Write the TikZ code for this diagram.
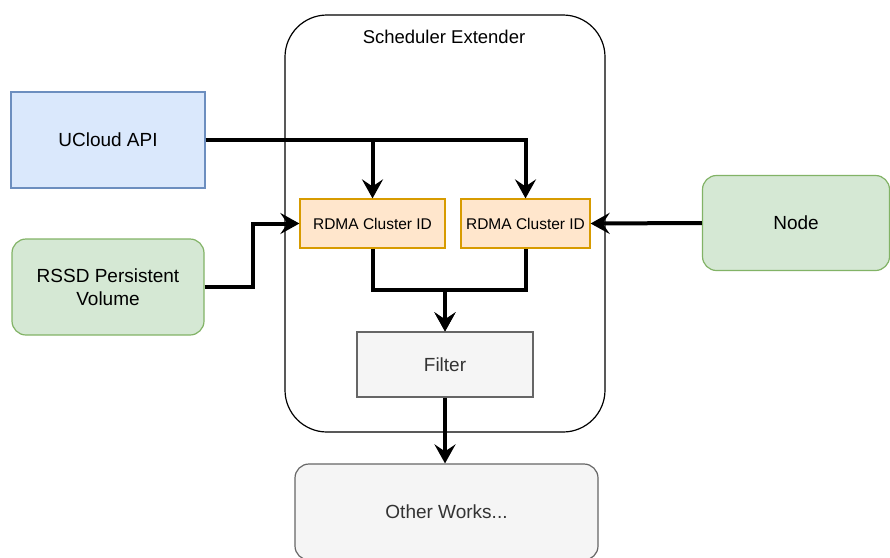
\documentclass[tikz,border=0pt]{standalone}
\usepackage{fontspec}
\setmainfont{Liberation Sans}
\usetikzlibrary{arrows.meta}
\definecolor{blueFill}{HTML}{DAE8FC}
\definecolor{blueLine}{HTML}{6C8EBF}
\definecolor{greenFill}{HTML}{D5E8D4}
\definecolor{greenLine}{HTML}{82B366}
\definecolor{orangeFill}{HTML}{FFE6CC}
\definecolor{orangeLine}{HTML}{D79B00}
\definecolor{grayFill}{HTML}{F5F5F5}
\definecolor{grayLine}{HTML}{666666}
\definecolor{grayText}{HTML}{333333}
\tikzset{
  box/.style={draw, line width=1.2pt, minimum width=#1, inner sep=0pt, align=center,
              font=\fontsize{19}{23}\selectfont},
  api/.style={box=194pt, minimum height=96pt, fill=blueFill, draw=blueLine},
  greenbox/.style={box=#1, rounded corners=14pt, fill=greenFill, draw=greenLine},
  rdma/.style={box=#1, minimum height=49pt, fill=orangeFill, draw=orangeLine,
               font=\fontsize{15.5}{19}\selectfont},
  graybox/.style={box=#1, fill=grayFill, draw=grayLine, text=grayText},
  flow/.style={line width=4pt, -{Stealth[length=19pt, width=21pt, inset=7pt]}},
}
\begin{document}
\begin{tikzpicture}[x=1pt, y=-1pt]
  \useasboundingbox (0,0) rectangle (890,557);

  % container
  \draw[line width=1.2pt, rounded corners=42pt] (285,15) rectangle (605,432);
  \node[font=\fontsize{18.5}{22}\selectfont] (title) at (444,37) {Scheduler Extender};

  % boxes
  \node[api] (api) at (108,140) {UCloud API};
  \node[greenbox=192pt, minimum height=96pt] (rssd) at (108,287) {RSSD Persistent\\Volume};
  \node[greenbox=187pt, minimum height=95pt] (node) at (796,223) {Node};
  \node[rdma=145pt] (r1) at (372.5,223.5) {RDMA Cluster ID};
  \node[rdma=129pt] (r2) at (525.5,223.5) {RDMA Cluster ID};
  \node[graybox=176pt, minimum height=65pt] (filter) at (445,364.5) {Filter};
  \node[graybox=303pt, minimum height=96pt, rounded corners=14pt] (other) at (446.5,512) {Other Works...};

  % connectors
  \coordinate (merge) at (445,290);
  \draw[flow] (api.east) -| (r1.north);
  \draw[flow] (api.east) -| (r2.north);
  \draw[flow] (rssd.east) -- ++(48,0) |- (r1.west);
  \draw[flow] (node.west) -- (r2.east);
  \draw[flow] (r1.south) |- (merge) -- (filter.north);
  \draw[flow] (r2.south) |- (merge) -- (filter.north);
  \draw[flow] (filter.south) -- (filter.south |- other.north);
\end{tikzpicture}
\end{document}
